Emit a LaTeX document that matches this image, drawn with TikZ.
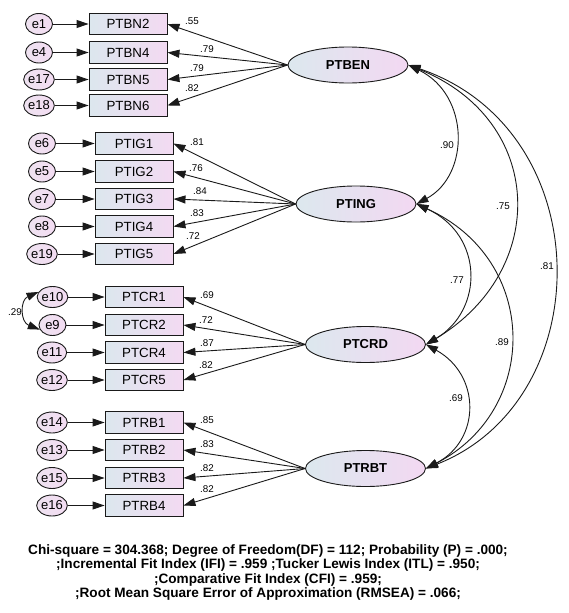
\documentclass[tikz,border=0pt]{standalone}
\usepackage{fontspec}
\setmainfont{Liberation Sans}
\usetikzlibrary{arrows.meta,shapes.geometric}
\definecolor{boxL}{HTML}{DCE7EE}
\definecolor{boxR}{HTML}{F3DAF2}
\definecolor{errL}{HTML}{EEE2F0}
\definecolor{errR}{HTML}{F3DCF2}
\definecolor{latL}{HTML}{DCE8EE}
\definecolor{latR}{HTML}{F3D8F2}
\definecolor{ink}{HTML}{1A1A1A}
\begin{document}
\begin{tikzpicture}[x=1pt,y=-1pt,
  obs/.style={draw=ink, line width=0.9pt, minimum width=78pt, minimum height=21.5pt, inner sep=0pt, left color=boxL, right color=boxR, font=\fontsize{13.3}{15}\selectfont},
  err/.style={ellipse, draw=ink, line width=0.9pt, minimum width=27pt, minimum height=21pt, inner sep=0pt, left color=errL, right color=errR, font=\fontsize{13}{15}\selectfont},
  lat/.style={ellipse, draw=ink, line width=0.9pt, minimum width=120pt, minimum height=36pt, inner sep=0pt, left color=latL, right color=latR, font=\bfseries\fontsize{13}{15}\selectfont},
  arr/.style={-{Triangle[length=12pt,width=8pt]}, line width=0.9pt, draw=ink},
  cov/.style={{Triangle[length=12pt,width=8pt]}-{Triangle[length=12pt,width=8pt]}, line width=0.9pt, draw=ink},
  coef/.style={font=\fontsize{9.8}{11}\selectfont, inner sep=0pt}
]
\useasboundingbox[fill=white] (0,0) rectangle (568,613);

% ---------- latent variables ----------
\node[lat] (PTBEN) at (348,65) {PTBEN};
\node[lat] (PTING) at (356,204) {PTING};
\node[lat] (PTCRD) at (365.5,344.5) {PTCRD};
\node[lat] (PTRBT) at (365.5,468.5) {PTRBT};

% ---------- PTBEN group ----------
\node[obs] (bn2) at (128,24) {PTBN2};
\node[obs] (bn4) at (128,52.5) {PTBN4};
\node[obs] (bn5) at (128,79.5) {PTBN5};
\node[obs] (bn6) at (128,105.5) {PTBN6};
\node[err] (e1) at (39,24) {e1};
\node[err] (e4) at (39,52.5) {e4};
\node[err] (e17) at (39,79.5) {e17};
\node[err] (e18) at (39,105.5) {e18};

% ---------- PTING group ----------
\node[obs] (ig1) at (134,143.5) {PTIG1};
\node[obs] (ig2) at (134,171.5) {PTIG2};
\node[obs] (ig3) at (134,199) {PTIG3};
\node[obs] (ig4) at (134,226.5) {PTIG4};
\node[obs] (ig5) at (134,254) {PTIG5};
\node[err] (e6) at (42,143.5) {e6};
\node[err] (e5) at (42,171.5) {e5};
\node[err] (e7) at (42,199) {e7};
\node[err] (e8) at (42,226.5) {e8};
\node[err] (e19) at (42,254) {e19};

% ---------- PTCRD group ----------
\node[obs] (cr1) at (144,297) {PTCR1};
\node[obs] (cr2) at (144,325) {PTCR2};
\node[obs] (cr4) at (144,352.5) {PTCR4};
\node[obs] (cr5) at (144,380) {PTCR5};
\node[err] (e10) at (52.5,297) {e10};
\node[err] (e9) at (52.5,325) {e9};
\node[err] (e11) at (52,352.5) {e11};
\node[err] (e12) at (52,380) {e12};

% ---------- PTRBT group ----------
\node[obs] (rb1) at (144,422.5) {PTRB1};
\node[obs] (rb2) at (144,450) {PTRB2};
\node[obs] (rb3) at (144,478) {PTRB3};
\node[obs] (rb4) at (144,505.5) {PTRB4};
\node[err] (e14) at (52,422.5) {e14};
\node[err] (e13) at (52,450) {e13};
\node[err] (e15) at (52,478) {e15};
\node[err] (e16) at (52,505.5) {e16};

% ---------- error arrows ----------
\foreach \e/\b in {e1/bn2,e4/bn4,e17/bn5,e18/bn6,e6/ig1,e5/ig2,e7/ig3,e8/ig4,e19/ig5,e10/cr1,e9/cr2,e11/cr4,e12/cr5,e14/rb1,e13/rb2,e15/rb3,e16/rb4}
  \draw[arr] (\e) -- (\b);

% ---------- loadings ----------
\foreach \b in {bn2,bn4,bn5,bn6} \draw[arr] (PTBEN.west) -- (\b.east);
\foreach \b in {ig1,ig2,ig3,ig4,ig5} \draw[arr] (PTING.west) -- (\b.east);
\foreach \b in {cr1,cr2,cr4,cr5} \draw[arr] (PTCRD.west) -- (\b.east);
\foreach \b in {rb1,rb2,rb3,rb4} \draw[arr] (PTRBT.west) -- (\b.east);

\node[coef] (l1) at (192,21) {.55};
\node[coef] (l2) at (207,49) {.79};
\node[coef] (l3) at (197,68) {.79};
\node[coef] (l4) at (192,88) {.82};
\node[coef] (l5) at (197,142) {.81};
\node[coef] (l6) at (196,168) {.76};
\node[coef] (l7) at (200,191) {.84};
\node[coef] (l8) at (197,213) {.83};
\node[coef] (l9) at (193,236) {.72};
\node[coef] (l10) at (207,295) {.69};
\node[coef] (l11) at (206,320) {.72};
\node[coef] (l12) at (207,343) {.87};
\node[coef] (l13) at (206,365) {.82};
\node[coef] (l14) at (207,420) {.85};
\node[coef] (l15) at (207,444) {.83};
\node[coef] (l16) at (207,468) {.82};
\node[coef] (l17) at (207,489) {.82};

% ---------- covariances ----------
\draw[cov] (PTBEN.east) .. controls (470,95) and (470,175) .. (PTING.east);
\draw[cov] (PTBEN.east) .. controls (545,120) and (550,270) .. (PTCRD.east);
\draw[cov] (PTBEN.east) .. controls (600,130) and (600,400) .. (PTRBT.east);
\draw[cov] (PTING.east) .. controls (484,235) and (484,310) .. (PTCRD.east);
\draw[cov] (PTING.east) .. controls (540,260) and (540,410) .. (PTRBT.east);
\draw[cov] (PTCRD.east) .. controls (481,375) and (481,440) .. (PTRBT.east);
\draw[cov] (e10.160) .. controls (20,300) and (20,322) .. (e9.200);

\node[coef] (c1) at (447,145) {.90};
\node[coef] (c2) at (503,206) {.75};
\node[coef] (c3) at (547,266) {.81};
\node[coef] (c4) at (457,280) {.77};
\node[coef] (c5) at (502,342) {.89};
\node[coef] (c6) at (456,398) {.69};
\node[coef] (c7) at (15,312) {.29};

% ---------- fit statistics ----------
\node[align=center, inner sep=0pt, font=\bfseries\fontsize{13.6}{14.5}\selectfont] (fit) at (268,572.5)
 {Chi-square = 304.368; Degree of Freedom(DF) = 112; Probability (P) = .000;\\
  ;Incremental Fit Index (IFI) = .959 ;Tucker Lewis Index (ITL) = .950;\\
  ;Comparative Fit Index (CFI) = .959;\\
  ;Root Mean Square Error of Approximation (RMSEA) = .066;};
\end{tikzpicture}
\end{document}
